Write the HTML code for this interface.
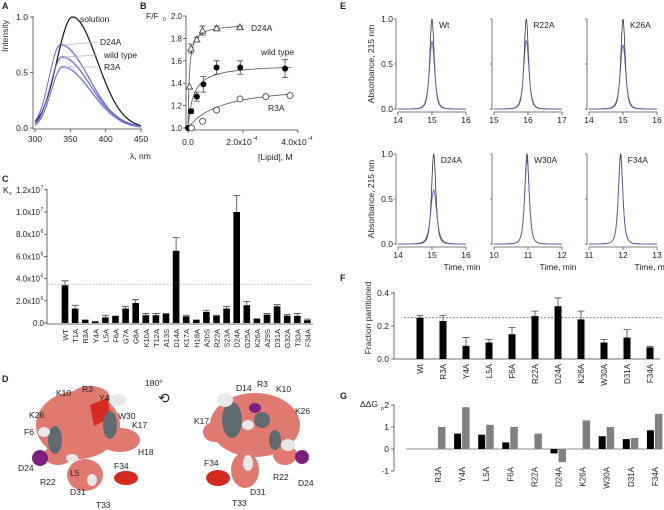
<!DOCTYPE html>
<html><head><meta charset="utf-8"><style>
html,body{margin:0;padding:0;background:#fff;}
svg{display:block;font-family:"Liberation Sans",Arial,sans-serif;}
text{fill:#222;}
</style></head><body>
<svg id="fig" width="664" height="510" viewBox="0 0 664 510" xmlns="http://www.w3.org/2000/svg">
<g id="gA"></g>
<g id="gB"></g>
<g id="gC"></g>
<g id="gD">
 <text x="2" y="382" font-size="9" font-weight="bold">D</text>
 <g>
  <ellipse cx="78" cy="425" rx="42" ry="34" fill="#e07a70"/>
  <ellipse cx="90" cy="398" rx="20" ry="12" fill="#e07a70"/>
  <ellipse cx="120" cy="440" rx="20" ry="12" fill="#e07a70"/>
  <ellipse cx="85" cy="475" rx="18" ry="16" fill="#e07a70"/>
  <ellipse cx="58" cy="455" rx="14" ry="10" fill="#e07a70"/>
  <path d="M90 405 L108 398 L110 418 L94 426 Z" fill="#d42a20"/>
  <ellipse cx="126" cy="478" rx="12" ry="7" fill="#d42a20"/>
  <ellipse cx="55" cy="440" rx="7" ry="14" fill="#5f6b70"/>
  <ellipse cx="110" cy="425" rx="7" ry="14" fill="#5f6b70"/>
  <ellipse cx="118" cy="400" rx="8" ry="6" fill="#e8e8e8"/>
  <ellipse cx="44" cy="432" rx="6" ry="5" fill="#e8e8e8"/>
  <ellipse cx="72" cy="458" rx="6" ry="4" fill="#e8e8e8"/>
  <ellipse cx="92" cy="480" rx="5" ry="6" fill="#e8e8e8"/>
  <ellipse cx="40" cy="458" rx="8" ry="8" fill="#7a2080"/>
 </g>
 <g>
  <ellipse cx="255" cy="425" rx="45" ry="32" fill="#e07a70"/>
  <ellipse cx="215" cy="432" rx="12" ry="10" fill="#e07a70"/>
  <ellipse cx="245" cy="470" rx="14" ry="18" fill="#e07a70"/>
  <ellipse cx="285" cy="455" rx="12" ry="10" fill="#e07a70"/>
  <ellipse cx="232" cy="420" rx="10" ry="18" fill="#5f6b70"/>
  <ellipse cx="262" cy="420" rx="8" ry="8" fill="#5f6b70"/>
  <ellipse cx="275" cy="440" rx="6" ry="10" fill="#5f6b70"/>
  <ellipse cx="225" cy="400" rx="8" ry="7" fill="#e8e8e8"/>
  <ellipse cx="248" cy="425" rx="6" ry="5" fill="#e8e8e8"/>
  <ellipse cx="288" cy="445" rx="7" ry="6" fill="#e8e8e8"/>
  <ellipse cx="248" cy="463" rx="5" ry="8" fill="#e8e8e8"/>
  <ellipse cx="255" cy="408" rx="6" ry="5" fill="#7a2080"/>
  <ellipse cx="302" cy="457" rx="7" ry="7" fill="#7a2080"/>
  <ellipse cx="218" cy="478" rx="12" ry="8" fill="#d42a20"/>
 </g>
 <g font-size="8.5">
  <text x="56" y="396">K10</text><text x="82" y="392">R3</text><text x="99" y="401">Y4</text>
  <text x="29" y="418">K26</text><text x="118" y="419">W30</text><text x="132" y="428">K17</text>
  <text x="24" y="435">F6</text><text x="138" y="455">H18</text><text x="18" y="471">D24</text>
  <text x="70" y="476">L5</text><text x="114" y="469">F34</text><text x="40" y="485">R22</text>
  <text x="70" y="495">D31</text><text x="96" y="508">T33</text>
  <text x="145" y="386">180°</text><text x="158" y="403" font-size="14">⟲</text>
  <text x="236" y="391">D14</text><text x="257" y="387">R3</text><text x="276" y="392">K10</text>
  <text x="295" y="414">K26</text><text x="194" y="424">K17</text><text x="204" y="466">F34</text>
  <text x="298" y="486">D24</text><text x="273" y="480">R22</text><text x="250" y="495">D31</text>
  <text x="232" y="506">T33</text>
 </g>
</g>
<g id="gE"></g>
<g id="gF"></g>
<g id="gG"></g>
</svg>
<script>
const NS="http://www.w3.org/2000/svg";
function mk(tag,at,parent){const e=document.createElementNS(NS,tag);for(const k in at)e.setAttribute(k,at[k]);parent.appendChild(e);return e;}
function tx(parent,x,y,s,size,anchor,rot){const e=mk('text',{x:x,y:y,'font-size':size||8.5,'text-anchor':anchor||'start'},parent);if(rot)e.setAttribute('transform','rotate('+rot+' '+x+' '+y+')');e.textContent=s;return e;}

// ---------- Panel A data ----------
const aNames=["solution","D24A","wild type","R3A"];
const aPeakNm=[353,336,338,339];
const aPeakH=[1.0,0.75,0.64,0.55];
const aSigL=[22,16,16,16];
const aSigR=[35,40,40,40];
// ---------- Panel B data (x in units of 1e-4 M) ----------
const bWtX=[0,0.11,0.32,0.56,1.04,1.9,3.53];
const bWtY=[1.0,1.15,1.28,1.39,1.54,1.54,1.53];
const bWtE=[0,0.02,0.04,0.07,0.06,0.06,0.08];
const bD24X=[0.05,0.11,0.32,0.53,1.04,1.89];
const bD24Y=[1.37,1.71,1.79,1.87,1.89,1.90];
const bD24E=[0,0.04,0.02,0.04,0.02,0.01];
const bR3X=[0.13,0.53,1.04,1.89,2.83,3.71];
const bR3Y=[1.0,1.06,1.16,1.26,1.28,1.29];
const bFitFmax=[0.57,0.93,0.4];
const bFitKd=[0.2,0.05,1.2];
// ---------- Panel C data ----------
const cCats=["WT","T1A","R3A","Y4A","L5A","F6A","G7A","G8A","K10A","T12A","A13S","D14A","K17A","H18A","A20S","R22A","S23A","D24A","G25A","K26A","A29S","D31A","G32A","T33A","F34A"];
const cVals=[3.4,1.3,0.3,0.15,0.5,0.65,1.3,1.8,0.7,0.7,0.8,6.5,0.6,0.3,1.0,0.65,1.3,10,1.6,0.4,0.75,1.5,0.65,0.65,0.25];
const cErr=[0.4,0.3,0,0,0.2,0,0.2,0.3,0.15,0.15,0.05,1.2,0.1,0,0.15,0.05,0.2,1.5,0.35,0,0.1,0.15,0.1,0.2,0.1];
const cTicks=["0.0","2.0x10","4.0x10","6.0x10","8.0x10","1.0x10","1.2x10"];
const cTickExp=["","6","6","6","6","7","7"];
// ---------- Panel E data ----------
const eNames=["Wt","R22A","K26A","D24A","W30A","F34A"];
const eStart=[14,15,14,14,10,11];
const ePeak=[15.0,15.95,15.0,15.05,10.97,11.93];
const eBlue=[0.75,0.76,0.71,0.6,0.93,0.97];
// ---------- Panel F data ----------
const fCats=["Wt","R3A","Y4A","L5A","F6A","R22A","D24A","K26A","W30A","D31A","F34A"];
const fVals=[0.25,0.23,0.08,0.10,0.15,0.26,0.32,0.24,0.10,0.13,0.07];
const fErr=[0.015,0.035,0.05,0.018,0.04,0.03,0.05,0.05,0.018,0.048,0.007];
// ---------- Panel G data ----------
const gCats=["R3A","Y4A","L5A","F6A","R22A","D24A","K26A","W30A","D31A","F34A"];
const gBlack=[0,0.7,0.65,0.3,0,-0.2,0,0.58,0.45,0.85];
const gGray=[1.0,1.9,1.1,1.0,0.7,-0.6,1.3,1.0,0.5,1.6];

// ===== Panel A =====
(function(){
 const g=document.getElementById('gA');
 const X=v=>35+(v-300)/150*106, Y=v=>128-v*111;
 let e=tx(g,2,9,"A",9);e.setAttribute('font-weight','bold');
 
 
 e=mk('path',{d:`M33 16 V129 M33 129 H142`,stroke:'#444','stroke-width':0.8,fill:'none'},g);
 
 
 [0,0.5,1].forEach(v=>{mk('line',{x1:30,x2:33,y1:Y(v),y2:Y(v),stroke:'#444','stroke-width':0.8},g);
  e=tx(g,28,Y(v)+3,v.toFixed(1),8.5,'end');
  
  });
 [300,350,400,450].forEach(v=>{mk('line',{x1:X(v),x2:X(v),y1:129,y2:132,stroke:'#444','stroke-width':0.8},g);
  e=tx(g,X(v),142,String(v),8.5,'middle');
  
  });
 e=tx(g,8,36,"Intensity",8.5,'middle',-90);
 
 
 e=tx(g,130,159,"λ, nm",8.5,'start');
 
 
 aNames.forEach((n,i)=>{
  const offs=i===0?[0]:[-0.6,0.6];
  offs.forEach(o=>{
   let d='';
   for(let w=300;w<=450;w+=1){const s=w<aPeakNm[i]?aSigL[i]:aSigR[i];const v=aPeakH[i]*Math.exp(-Math.pow((w-aPeakNm[i])/s,2)/2);d+=(w===300?'M':'L')+X(w).toFixed(1)+' '+(Y(v)+o).toFixed(1);}
   const p=mk('path',{d:d,fill:'none',stroke:i===0?'#111':'#5a5ad0','stroke-width':i===0?1.2:0.6},g);
   
   
  });
  if(i===0){e=tx(g,80,22,n,8.5);}
  else{const yy=[0,45,58,70][i];mk('line',{x1:X(aPeakNm[i])+4,x2:98,y1:Y(aPeakH[i]),y2:yy-3,stroke:'#bbb','stroke-width':0.8},g);
   e=tx(g,i===1?100:104,yy,n,8.5);}
  
  
 });
})();

// ===== Panel B =====
(function(){
 const g=document.getElementById('gB');
 const X=v=>188+v/4*110, Y=v=>128-(v-1)*112;
 let e=tx(g,140,9,"B",9);e.setAttribute('font-weight','bold');
 
 
 e=mk('path',{d:`M186 16 V130 M186 130 H298`,stroke:'#444','stroke-width':0.8,fill:'none'},g);
 
 
 [1,1.2,1.4,1.6,1.8,2].forEach(v=>{mk('line',{x1:183,x2:186,y1:Y(v),y2:Y(v),stroke:'#444','stroke-width':0.8},g);
  e=tx(g,182,Y(v)+3,v.toFixed(1),8,'end');
  
  });
 [[0,"0.0",""],[2,"2.0x10","-4"],[4,"4.0x10","-4"]].forEach(t=>{mk('line',{x1:X(t[0]),x2:X(t[0]),y1:130,y2:133,stroke:'#444','stroke-width':0.8},g);
  e=tx(g,X(t[0])-(t[2]?4:0),145,t[1],8.5,'middle');
  
  
  if(t[2]){const s=tx(g,X(t[0])+10,140,t[2],5);
   }});
 e=tx(g,146,19,"F/F",8.5);
 
 tx(g,163,21,"0",5);
 e=tx(g,258,160,"[Lipid], M",8.5);
 
 [0,1,2].forEach(k=>{let d='';const vmax=k===1?1.95:3.75;for(let v=0;v<=vmax;v+=0.01){const y=1+bFitFmax[k]*v/(bFitKd[k]+v);d+=(v===0?'M':'L')+X(v).toFixed(1)+' '+Y(y).toFixed(1);}
  const p=mk('path',{d:d,fill:'none',stroke:'#555','stroke-width':0.8},g);
  
  });
 function eb(x,y,er){if(!er)return;mk('path',{d:`M${X(x)} ${Y(y+er)} V${Y(y-er)} M${X(x)-3} ${Y(y+er)} H${X(x)+3} M${X(x)-3} ${Y(y-er)} H${X(x)+3}`,stroke:'#444','stroke-width':0.8,fill:'none'},g);}
 bWtX.forEach((x,i)=>{eb(x,bWtY[i],bWtE[i]);const c=mk('circle',{cx:X(x),cy:Y(bWtY[i]),r:3,fill:'#000'},g);
  
  });
 bD24X.forEach((x,i)=>{eb(x,bD24Y[i],bD24E[i]);const cx=X(x),cy=Y(bD24Y[i]);const c=mk('path',{d:`M${cx} ${cy-3.2} L${cx+3.2} ${cy+2.5} L${cx-3.2} ${cy+2.5} Z`,fill:'#fff',stroke:'#333','stroke-width':0.8},g);
  
  });
 bR3X.forEach((x,i)=>{const c=mk('circle',{cx:X(x),cy:Y(bR3Y[i]),r:3,fill:'#fff',stroke:'#333','stroke-width':0.8},g);
  
  });
 e=tx(g,251,31,"D24A",8.5);
 
 e=tx(g,261,55,"wild type",8.5);
 
 e=tx(g,268,111,"R3A",8.5);
 
})();

// ===== Panel C =====
(function(){
 const g=document.getElementById('gC');
 const Y=v=>323-v*11.1, X=i=>65+i*10.1;
 let e=tx(g,2,182,"C",9);e.setAttribute('font-weight','bold');
 
 
 e=tx(g,3,193,"K",8.5);
 
 tx(g,9,195,"x",5);
 e=mk('path',{d:`M47 189 V324 M47 324 H313`,stroke:'#444','stroke-width':0.8,fill:'none'},g);
 
 
 cTicks.forEach((t,i)=>{const y=Y(i*2);mk('line',{x1:44,x2:47,y1:y,y2:y,stroke:'#444','stroke-width':0.8},g);
  e=tx(g,cTickExp[i]?40:44,y+3,t,8,'end');
  
  
  if(cTickExp[i])tx(g,40.5,y-1,cTickExp[i],5);});
 e=mk('line',{x1:47,x2:313,y1:Y(3.45),y2:Y(3.45),stroke:'#aaa','stroke-width':0.6,'stroke-dasharray':'2,1.5'},g);
 
 
 cCats.forEach((c,i)=>{const x=X(i);
  const r=mk('rect',{x:x-3.3,y:Y(cVals[i]),width:6.6,height:Y(0)-Y(cVals[i]),fill:'#000'},g);
  
  
  if(cErr[i]>0){const t=Y(cVals[i]+cErr[i]);mk('path',{d:`M${x} ${Y(cVals[i])} V${t} M${x-3.5} ${t} H${x+3.5}`,stroke:'#444','stroke-width':0.8},g);}
  const l=tx(g,x+3,329,c,7.5,'end',-90);
  
  });
})();

// ===== Panel E =====
(function(){
 const g=document.getElementById('gE');
 let e=tx(g,340,9,"E",9);e.setAttribute('font-weight','bold');
 
 
 const lefts=[398,494,589];
 eNames.forEach((n,k)=>{
  const col=k%3,row=Math.floor(k/3);
  const L=lefts[col],top=row?154:19,bot=row?244:109;
  const X=t=>L+(t-eStart[k])/2*68, Y=v=>bot-v*(bot-top);
  mk('path',{d:`M${L-2} ${top} V${bot+1}`,stroke:'#555','stroke-width':0.8,fill:'none'},g);
  [0,0.5,1].forEach(v=>{mk('line',{x1:L-4,x2:L-2,y1:Y(v),y2:Y(v),stroke:'#555','stroke-width':0.8},g);
   if(col===0){const t=tx(g,L-5,Y(v)+3,v.toFixed(1),8.5,'end');
    }});
  mk('line',{x1:L,x2:L+68,y1:bot+3,y2:bot+3,stroke:'#555','stroke-width':0.8},g);
  [0,1,2].forEach(d=>{mk('line',{x1:X(eStart[k]+d),x2:X(eStart[k]+d),y1:bot+3,y2:bot+6,stroke:'#555','stroke-width':0.8},g);
   const t=tx(g,X(eStart[k]+d),bot+14,String(eStart[k]+d),8.5,'middle');
   
   });
  [[1,0.117,'#333'],[eBlue[k],0.117*Math.pow(1/eBlue[k],0.6),'#5a5ab8']].forEach((s,j)=>{
   let d='';for(let t=eStart[k];t<=eStart[k]+2.0001;t+=0.01){const u=(t-ePeak[k])/s[1];const v=s[0]/Math.pow(1+u*u,2);d+=(d?'L':'M')+X(t).toFixed(1)+' '+Y(v).toFixed(1);}
   const p=mk('path',{d:d,fill:'none',stroke:s[2],'stroke-width':0.8},g);
   
   });
  const lb=tx(g,X(ePeak[k])+7,top+9,n,8.5);
  
  
  if(col===0){const a=tx(g,374,(top+bot)/2,"Absorbance, 215 nm",8.5,'middle',-90);
   
   }
  if(row===1){const a=tx(g,L+64,270,"Time, min",8.5,'middle');
   
   }
 });
})();

// ===== Panel F =====
(function(){
 const g=document.getElementById('gF');
 const Y=v=>359-v*165, X=i=>420+i*23;
 let e=tx(g,340,281,"F",9);e.setAttribute('font-weight','bold');
 
 
 e=mk('path',{d:`M394 292 V359 M394 359 H660`,stroke:'#444','stroke-width':0.8,fill:'none'},g);
 
 
 [0,0.2,0.4].forEach(v=>{mk('line',{x1:391,x2:394,y1:Y(v),y2:Y(v),stroke:'#444','stroke-width':0.8},g);
  const t=tx(g,389,Y(v)+3,v.toFixed(1),8.5,'end');
  });
 e=tx(g,371,318,"Fraction partitioned",8.5,'middle',-90);
 
 
 e=mk('line',{x1:404,x2:662,y1:Y(0.25),y2:Y(0.25),stroke:'#555','stroke-width':0.7,'stroke-dasharray':'2,1.5'},g);
 
 
 fCats.forEach((c,i)=>{const x=X(i);
  const r=mk('rect',{x:x-3.5,y:Y(fVals[i]),width:7,height:Y(0)-Y(fVals[i]),fill:'#000'},g);
  
  
  const t=Y(fVals[i]+fErr[i]);mk('path',{d:`M${x} ${Y(fVals[i])} V${t} M${x-3.5} ${t} H${x+3.5}`,stroke:'#444','stroke-width':0.8},g);
  const l=tx(g,x+3,364,c,8,'end',-90);
  
  });
})();

// ===== Panel G =====
(function(){
 const g=document.getElementById('gG');
 const Y=v=>449-v*22, X=i=>438+i*24.1;
 let e=tx(g,340,399,"G",9);e.setAttribute('font-weight','bold');
 
 
 e=tx(g,360,407,"ΔΔG",8.5);
 
 tx(g,381,410,"p",5);
 e=mk('path',{d:`M394 405 V471`,stroke:'#444','stroke-width':0.8,fill:'none'},g);
 
 
 [2,1,0,-1].forEach(v=>{mk('line',{x1:391,x2:394,y1:Y(v),y2:Y(v),stroke:'#444','stroke-width':0.8},g);
  const t=tx(g,389,Y(v)+3,String(v),8.5,'end');
  });
 e=mk('line',{x1:406,x2:662,y1:Y(0),y2:Y(0),stroke:'#666','stroke-width':0.8},g);
 
 
 gCats.forEach((c,i)=>{const x=X(i);
  const bv=gBlack[i],gv=gGray[i];
  if(bv!==0){const r=mk('rect',{x:x-8,y:Math.min(Y(bv),Y(0)),width:7,height:Math.abs(Y(bv)-Y(0)),fill:'#000'},g);
   
   }
  const r2=mk('rect',{x:x,y:Math.min(Y(gv),Y(0)),width:7.5,height:Math.abs(Y(gv)-Y(0)),fill:'#808080'},g);
  
  
  const l=tx(g,x+3,467,c,8,'end',-90);
  
  });
})();
</script>
</body></html>
